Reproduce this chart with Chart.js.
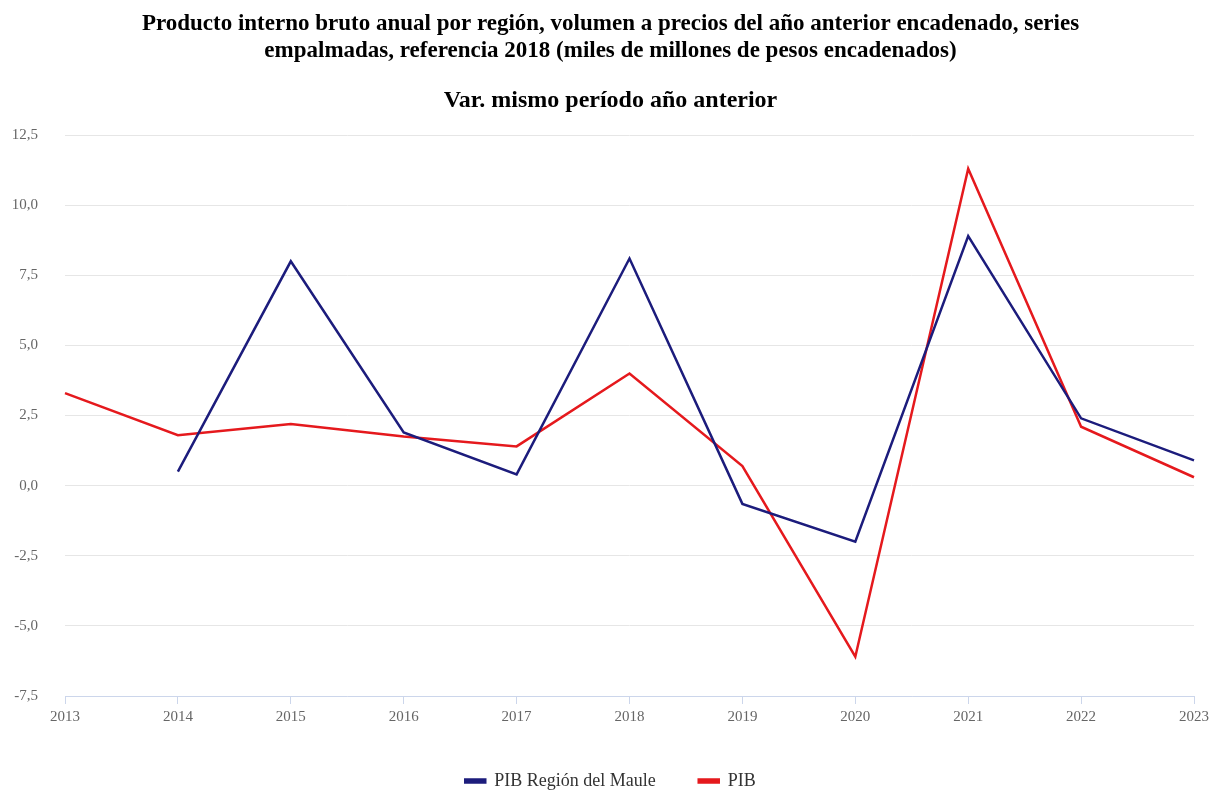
<!DOCTYPE html>
<html>
<head>
<meta charset="utf-8">
<script src="https://cdn.jsdelivr.net/npm/chart.js@4"></script>
<style>
  html, body { margin: 0; padding: 0; background: #fff; overflow: hidden; }
  #wrap { width: 1221px; height: 795px; }
</style>
</head>
<body>
<div id="wrap"><canvas id="pibChart"></canvas></div>
<script>
// DATA
const years = ['2013', '2014', '2015', '2016', '2017', '2018', '2019', '2020', '2021', '2022', '2023'];
const pibMaule = [null, 0.5, 8.0, 1.9, 0.4, 8.1, -0.65, -2.0, 8.9, 2.4, 0.9];
const pibPais = [3.3, 1.8, 2.2, 1.75, 1.4, 4.0, 0.7, -6.1, 11.3, 2.1, 0.3];
const titleLines = [
  'Producto interno bruto anual por región, volumen a precios del año anterior encadenado, series',
  'empalmadas, referencia 2018 (miles de millones de pesos encadenados)'
];
const subtitleText = 'Var. mismo período año anterior';

const serif = '"Liberation Serif", "Times New Roman", serif';

const ctx = document.getElementById('pibChart');
const pibChart = new Chart(ctx, {
  type: 'line',
  data: {
    labels: years,
    datasets: [{
      label: 'PIB Región del Maule',
      data: pibMaule,
      borderColor: '#1c1c7c',
      backgroundColor: '#1c1c7c',
      borderWidth: 2.5,
      pointRadius: 0,
      tension: 0
    },
    {
      label: 'PIB',
      data: pibPais,
      borderColor: '#e5191d',
      backgroundColor: '#e5191d',
      borderWidth: 2.5,
      pointRadius: 0,
      tension: 0
    }]
  },
  options: {
    responsive: true,
    maintainAspectRatio: false,
    animation: false,
    layout: {
      padding: { left: 0, right: 0, top: 0, bottom: -5 }
    },
    plugins: {
      title: {
        display: true,
        text: titleLines,
        color: '#000',
        font: { family: serif, size: 23, weight: 'bold', lineHeight: 1.18 },
        padding: { top: 10, bottom: 22 }
      },
      subtitle: {
        display: true,
        text: subtitleText,
        color: '#000',
        font: { family: serif, size: 24, weight: 'bold', lineHeight: 1.2 },
        padding: { top: 0, bottom: 20 }
      },
      legend: {
        position: 'bottom',
        labels: {
          color: '#333',
          font: { family: serif, size: 18 },
          boxWidth: 20,
          boxHeight: 3,
          padding: 43
        }
      },
      tooltip: { enabled: false }
    },
    scales: {
      x: {
        afterFit: (scale) => { scale.height = 33; },
        grid: {
          drawOnChartArea: false,
          drawTicks: true,
          tickLength: 8,
          color: '#ccd6eb'
        },
        border: { color: '#ccd6eb', width: 1 },
        ticks: {
          color: '#666',
          font: { family: serif, size: 15 },
          padding: 4,
          maxRotation: 0
        }
      },
      y: {
        min: -7.5,
        max: 12.5,
        afterFit: (scale) => { scale.width = 65; },
        grid: { color: '#e6e6e6', drawTicks: false },
        border: { display: false },
        ticks: {
          stepSize: 2.5,
          color: '#666',
          font: { family: serif, size: 15 },
          padding: 27,
          callback: (value) => value.toFixed(1).replace('.', ',')
        }
      },
      // empty right-hand strip so the titles stay centred on the canvas
      yRight: {
        position: 'right',
        afterFit: (scale) => { scale.width = 27; },
        grid: { display: false },
        border: { display: false },
        ticks: { display: false }
      }
    }
  }
});
</script>
</body>
</html>
